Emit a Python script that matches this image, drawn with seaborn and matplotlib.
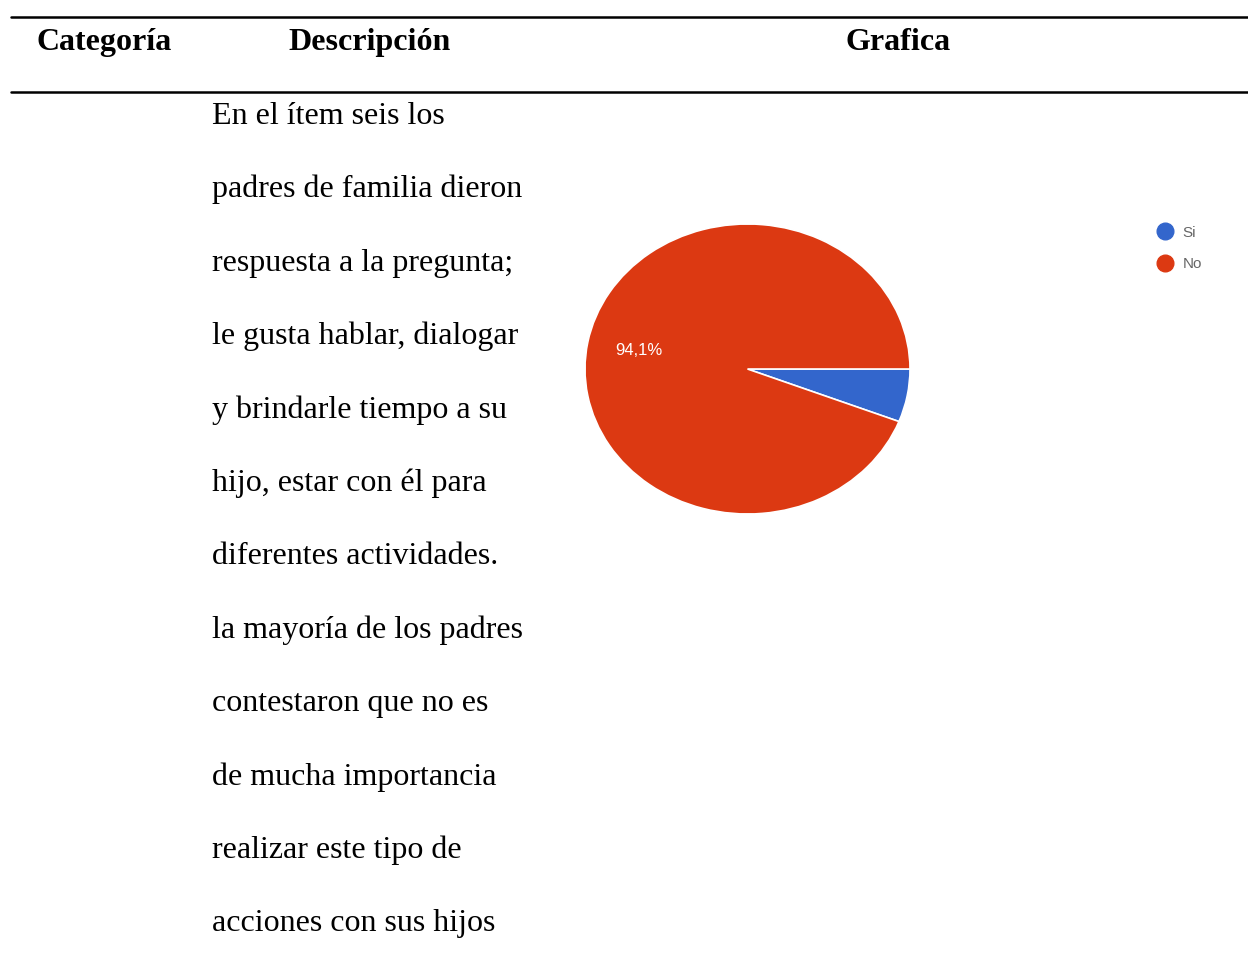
import matplotlib
matplotlib.use("Agg")
import matplotlib.pyplot as plt
from matplotlib.lines import Line2D
import seaborn as sns

# data
categorias = ["Si", "No"]
porcentajes = [5.9, 94.1]
colores = ["#3366cc", "#dc3912"]

encabezados = ["Categoría", "Descripción", "Grafica"]
descripcion = [
    "En el ítem seis los",
    "padres de familia dieron",
    "respuesta a la pregunta;",
    "le gusta hablar, dialogar",
    "y brindarle tiempo a su",
    "hijo, estar con él para",
    "diferentes actividades.",
    "la mayoría de los padres",
    "contestaron que no es",
    "de mucha importancia",
    "realizar este tipo de",
    "acciones con sus hijos",
]

sns.set_theme(style="white")
plt.rcParams["font.family"] = ["Liberation Serif", "DejaVu Serif"]
plt.rcParams["text.color"] = "black"

W, H = 1248, 969
fig = plt.figure(figsize=(W / 100, H / 100), dpi=100)


def fx(px):
    return px / W


def fy(py):
    return 1 - py / H


# table rules
for y in (17, 92):
    fig.add_artist(Line2D([fx(11), 1.0], [fy(y), fy(y)], color="black", lw=1.8))

# headers
fig.text(fx(36), fy(50), encabezados[0], fontsize=23, fontweight="bold", va="baseline")
fig.text(fx(288), fy(50), encabezados[1], fontsize=23, fontweight="bold", va="baseline")
fig.text(fx(898), fy(50), encabezados[2], fontsize=23, fontweight="bold", va="baseline", ha="center")

# description column
for i, linea in enumerate(descripcion):
    fig.text(fx(212), fy(124 + i * 73.4), linea, fontsize=23, va="baseline")

# pie chart
ax = fig.add_axes([fx(585), fy(514), fx(910) - fx(585), (514 - 224) / H])


def etiqueta(pct):
    if pct < 10:
        return ""
    return f"{pct:.1f}%".replace(".", ",")


wedges, textos, autotextos = ax.pie(
    porcentajes,
    colors=colores,
    startangle=0,
    counterclock=False,
    autopct=etiqueta,
    pctdistance=0.68,
    wedgeprops=dict(edgecolor="white", linewidth=1.2),
    textprops=dict(color="white", fontsize=12, family="Liberation Sans"),
)
ax.set_aspect("auto")
ax.set_xlim(-1, 1)
ax.set_ylim(-1, 1)
ax.axis("off")

handles = [
    Line2D([], [], marker="o", ls="", color=c, markersize=12) for c in colores
]
leg = fig.legend(
    handles,
    categorias,
    loc="upper left",
    bbox_to_anchor=(fx(1136), fy(212)),
    frameon=False,
    handletextpad=0.15,
    labelspacing=1.15,
    prop=dict(family="Liberation Sans", size=11),
)
for t in leg.get_texts():
    t.set_color("#666666")

fig.savefig("out.png", dpi=100)
